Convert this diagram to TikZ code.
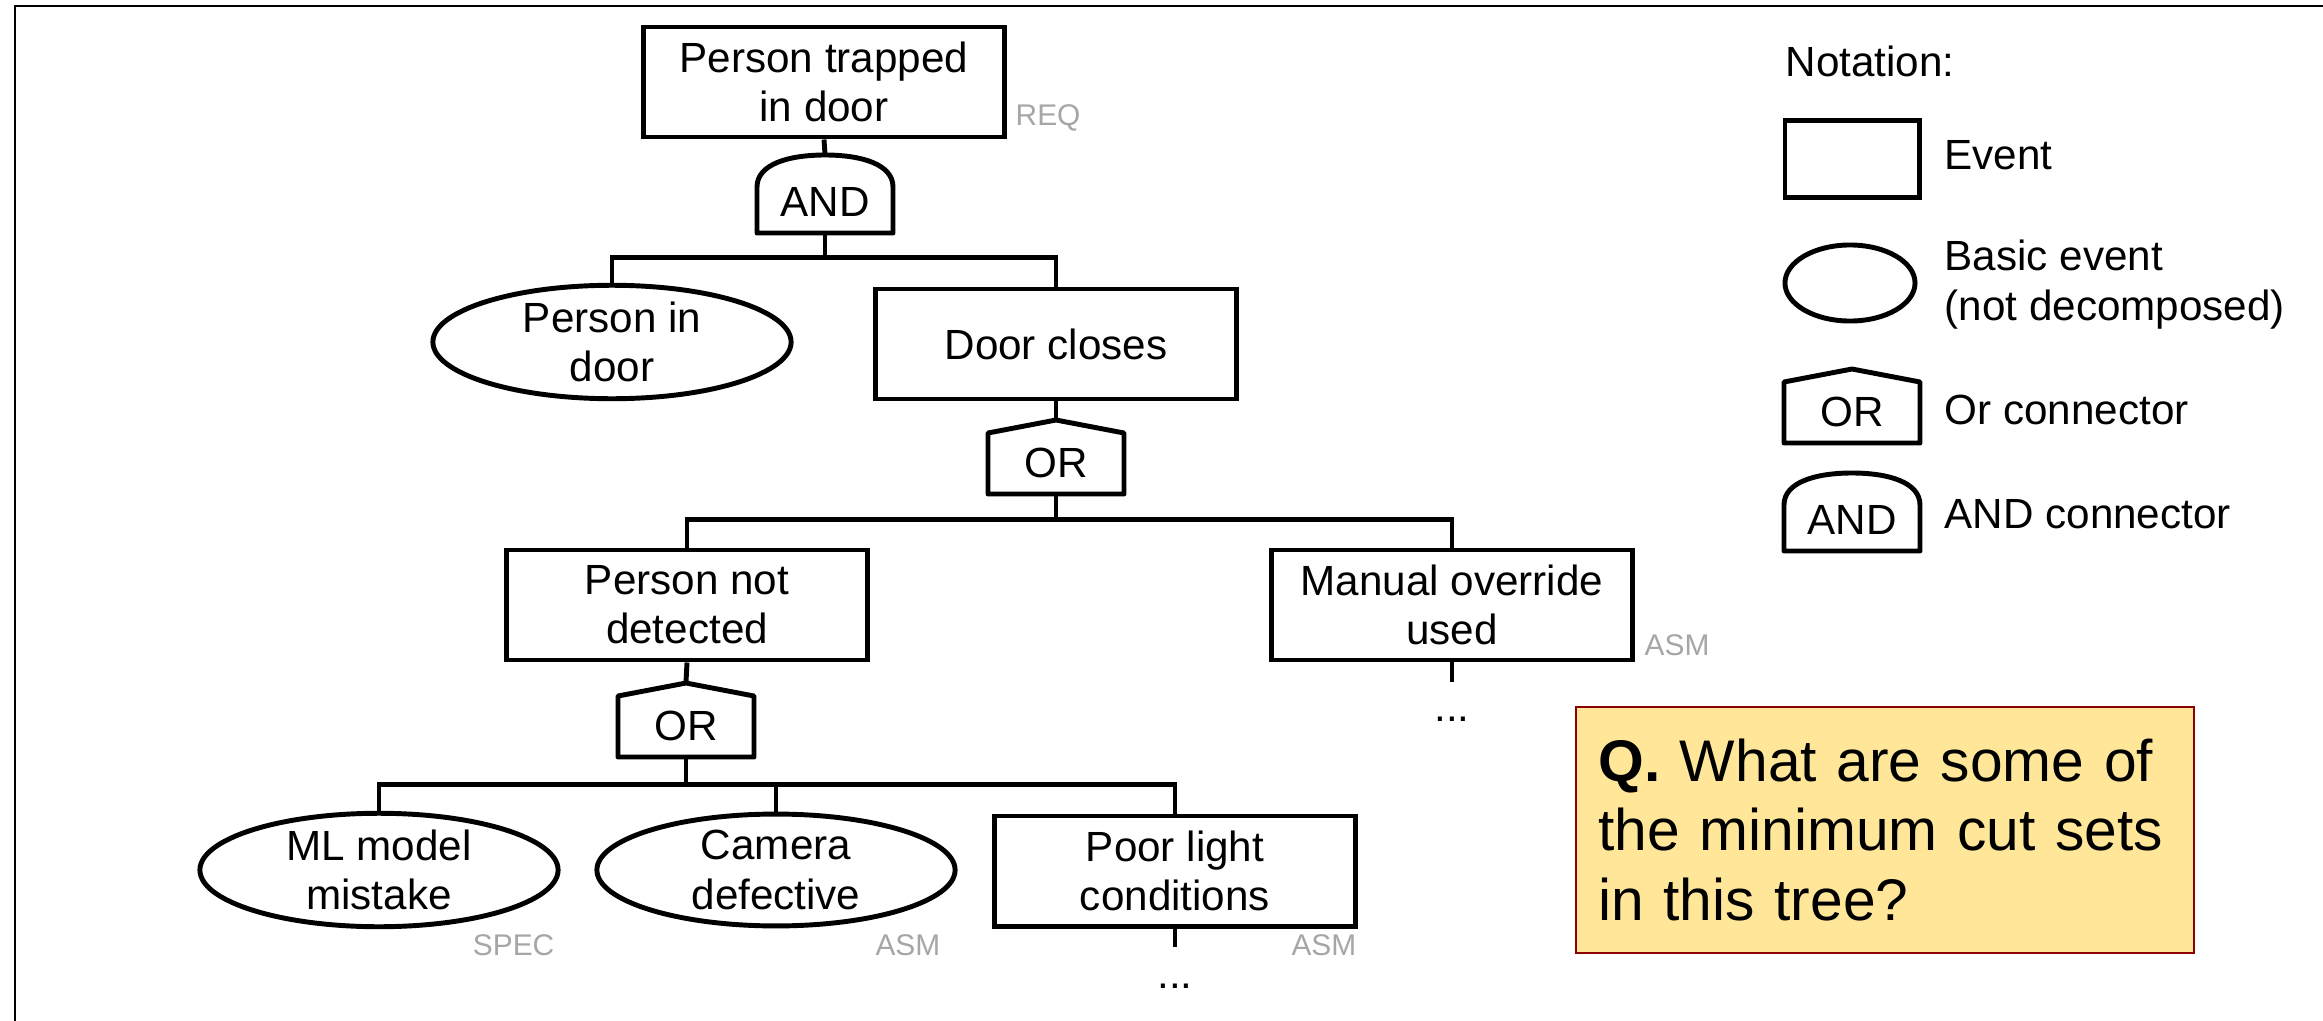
\documentclass[tikz,border=0pt]{standalone}
\usepackage{fontspec}
\setmainfont{Liberation Sans}
\usetikzlibrary{shapes.geometric,calc}
\definecolor{tagcol}{HTML}{A6A6A6}
\definecolor{qfill}{HTML}{FFE699}
\definecolor{qedge}{HTML}{8B0000}
\newcommand{\treefont}{\fontsize{12}{14}\selectfont}

\begin{document}
\begin{tikzpicture}[x=0.01cm, y=-0.01cm,
  heavy/.style={line width=1.4pt},
  wire/.style={heavy},
  evt/.style={draw, heavy, rectangle, align=center, inner sep=0pt,
     minimum width=3.60cm, minimum height=1.10cm, font=\treefont},
  basic/.style={draw, heavy, ellipse, align=center, inner sep=0pt,
     minimum width=3.58cm, minimum height=1.11cm, font=\treefont},
  tag/.style={font=\fontsize{8.5}{10}\selectfont, text=tagcol, inner sep=0pt},
  gatelbl/.style={font=\treefont, inner sep=0pt},
  dots/.style={font=\treefont, inner sep=0pt, anchor=base},
  legendtxt/.style={font=\treefont, inner sep=0pt, anchor=base west},
  pics/andgate/.style={code={
    \node[inner sep=0pt, minimum width=1.36cm, minimum height=0.78cm] (-box) at (0,0) {};
    \draw[heavy, line join=round] (-68,39) -- (-68,-7) .. controls (-68,-30) and (-36,-39) .. (0,-39)
        .. controls (36,-39) and (68,-30) .. (68,-7) -- (68,39) -- cycle;
    \node[gatelbl] (-txt) at (0,8) {AND};
  }},
  pics/orgate/.style={code={
    \node[inner sep=0pt, minimum width=1.36cm, minimum height=0.74cm] (-box) at (0,0) {};
    \draw[heavy, line join=round] (-68,37) -- (-68,-24) -- (0,-37) -- (68,-24) -- (68,37) -- cycle;
    \node[gatelbl] (-txt) at (0,6) {OR};
  }},
]
\useasboundingbox (0,0) rectangle (2323,1021);

% outer frame
\draw[line width=0.7pt] (15,1030) -- (15,6) -- (2330,6);

% top event and AND gate
\node[evt] (top) at (824,82) {Person trapped\\in door};
\node[tag, anchor=base west] (topTag) at (1015,125) {REQ};
\pic (and1) at (825,194) {andgate};
\draw[wire] (top.south) -- (and1-box.north);
\coordinate (j1) at ($(and1-box.south)+(0,24)$);
\draw[wire] (and1-box.south) -- (j1);
\node[basic] (pid) at (612,342) {Person in\\door};
\node[evt] (door) at (1056,344) {Door closes};
\draw[wire] (pid.north) |- (j1) -| (door.north);

% door closes: OR
\pic (or1) at (1056,457) {orgate};
\draw[wire] (door.south) -- (or1-box.north);
\coordinate (j2) at ($(or1-box.south)+(0,25)$);
\node[evt] (pnd) at (687,605) {Person not\\detected};
\node[evt] (mo) at (1452,605) {Manual override\\used};
\draw[wire] (or1-box.south) -- (j2);
\draw[wire] (pnd.north) |- (j2) -| (mo.north);
\node[tag, anchor=base west] (moTag) at (1644,655) {ASM};
\coordinate (moTail) at (1452,682);
\draw[wire] (mo.south) -- (moTail);
\node[dots] (moDots) at (1452,721) {...};

% person not detected: OR
\pic (or2) at (686,720) {orgate};
\draw[wire] (pnd.south) -- (or2-box.north);
\coordinate (j3) at ($(or2-box.south)+(0,27)$);
\node[basic] (ml) at (379,870) {ML model\\mistake};
\node[basic] (cam) at (776,870) {Camera\\defective};
\node[evt] (poor) at (1175,871) {Poor light\\conditions};
\draw[wire] (or2-box.south) -- (j3);
\draw[wire] (ml.north) |- (j3) -| (poor.north);
\draw[wire] (cam.north) -- (cam.north |- j3);
\node[tag, anchor=base east] (mlTag) at (555,955) {SPEC};
\node[tag, anchor=base east] (camTag) at (941,955) {ASM};
\node[tag, anchor=base east] (poorTag) at (1357,955) {ASM};
\coordinate (poorTail) at (1175,947);
\draw[wire] (poor.south) -- (poorTail);
\node[dots] (poorDots) at (1175,988) {...};

% notation legend
\node[legendtxt] (legTitle) at (1785,77) {Notation:};
\node[draw, heavy, minimum width=1.34cm, minimum height=0.77cm, inner sep=0pt] (legEvt) at (1852,159) {};
\node[legendtxt] (legEvtTxt) at (1944,169) {Event};
\node[draw, heavy, ellipse, minimum width=1.30cm, minimum height=0.76cm, inner sep=0pt] (legBasic) at (1850,283) {};
\node[legendtxt] (legBasicTxt1) at (1944,270) {Basic event};
\node[legendtxt] (legBasicTxt2) at (1944,320) {(not decomposed)};
\pic (legOr) at (1852,406) {orgate};
\node[legendtxt] (legOrTxt) at (1944,424) {Or connector};
\pic (legAnd) at (1852,512) {andgate};
\node[legendtxt] (legAndTxt) at (1944,528) {AND connector};

% question box
\node[draw=qedge, fill=qfill, line width=0.6pt, minimum width=6.17cm, minimum height=2.45cm,
      text width=5.73cm, inner xsep=0.22cm, inner ysep=0pt, align=left,
      font=\fontsize{16.7}{19.8}\selectfont] (q) at (1885,830)
  {\textbf{Q.} What are some of\\the minimum cut sets\\in this tree?};
\end{tikzpicture}
\end{document}
